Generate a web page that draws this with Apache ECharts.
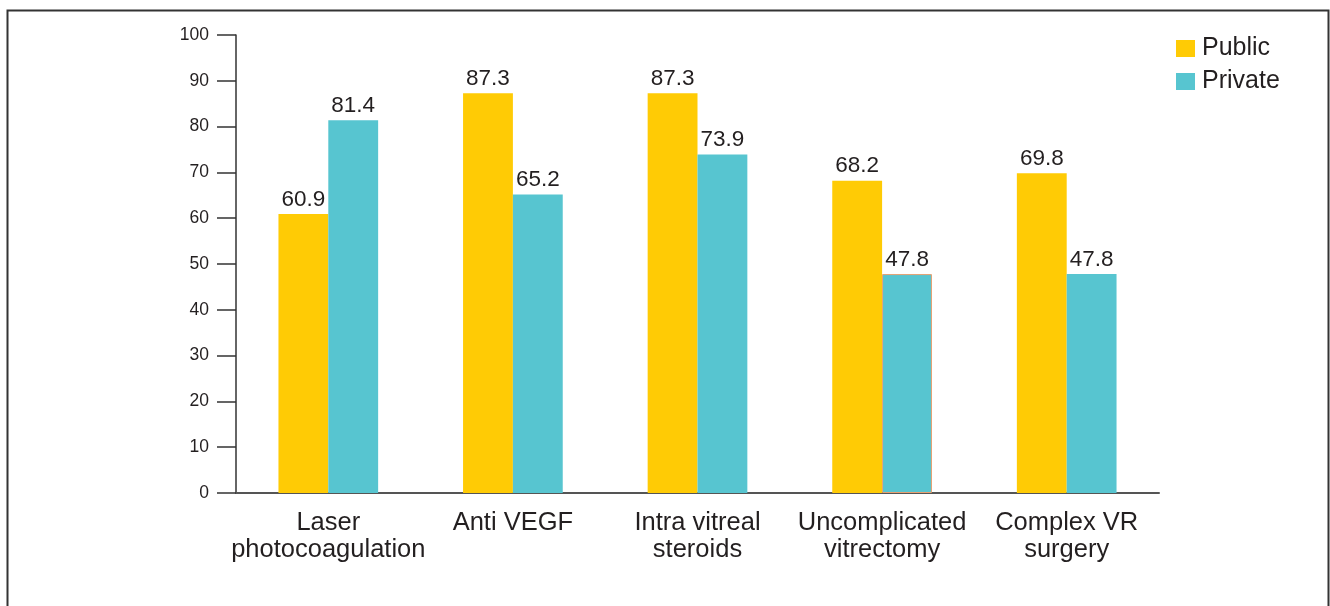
<!DOCTYPE html>
<html>
<head>
<meta charset="utf-8">
<script src="https://cdn.jsdelivr.net/npm/echarts@6/dist/echarts.min.js"></script>
<style>
  html, body { margin: 0; padding: 0; background: #fff; }
  #chart { width: 1330px; height: 606px; }
</style>
</head>
<body>
<div id="chart"></div>
<script>
// values
const categories = ['Laser\nphotocoagulation', 'Anti VEGF', 'Intra vitreal\nsteroids', 'Uncomplicated\nvitrectomy', 'Complex VR\nsurgery']
const publicValues = [60.9, 87.3, 87.3, 68.2, 69.8]
const privateValues = [81.4, 65.2, 73.9, 47.8, 47.8]
const seriesNames = ['Public', 'Private']

const font = 'Liberation Sans, Arial, Helvetica, sans-serif'
const textColor = '#231f20'
const axisColor = '#555'

const chart = echarts.init(document.getElementById('chart'))

const valueLabel = { show: true, position: 'top', distance: 3, fontSize: 22.5, color: textColor }

chart.setOption({
  animation: false,
  textStyle: { fontFamily: font },
  graphic: [{
    type: 'rect',
    shape: { x: 7.5, y: 10.5, width: 1321, height: 700 },
    style: { fill: 'none', stroke: '#333', lineWidth: 2 },
    silent: true,
  }],
  legend: {
    data: seriesNames,
    orient: 'vertical',
    left: 1176,
    top: 36,
    padding: 0,
    itemWidth: 19,
    itemHeight: 17,
    itemGap: 8,
    icon: 'rect',
    textStyle: { fontSize: 25, color: textColor, fontFamily: font, padding: [0, 0, 0, 2] },
  },
  grid: { left: 236, right: 171, top: 35, bottom: 113 },
  xAxis: {
    type: 'category',
    data: categories,
    axisLine: { lineStyle: { color: axisColor, width: 2 } },
    axisTick: { length: 16, lineStyle: { color: '#333', width: 1.5 } },
    axisLabel: {
      fontSize: 25.5,
      color: textColor,
      lineHeight: 27,
      margin: 16,
      interval: 0,
    },
  },
  yAxis: {
    type: 'value',
    min: 0,
    max: 100,
    interval: 10,
    splitLine: { show: false },
    axisLine: { show: true, lineStyle: { color: '#333', width: 1.5 } },
    axisTick: { show: true, length: 19, lineStyle: { color: '#333', width: 1.5 } },
    axisLabel: { fontSize: 17.5, color: textColor, margin: 27 },
  },
  series: [
    {
      name: seriesNames[0],
      type: 'bar',
      data: publicValues,
      barGap: '0%',
      barCategoryGap: '46%',
      itemStyle: { color: '#FFCB05' },
      label: valueLabel,
    },
    {
      name: seriesNames[1],
      type: 'bar',
      data: privateValues.map((v, i) => i === 3
        ? { value: v, itemStyle: { borderColor: '#E8A070', borderWidth: 1 } }
        : v),
      barGap: '0%',
      barCategoryGap: '46%',
      itemStyle: { color: '#57C5D0' },
      label: valueLabel,
    },
  ],
})
</script>
</body>
</html>
